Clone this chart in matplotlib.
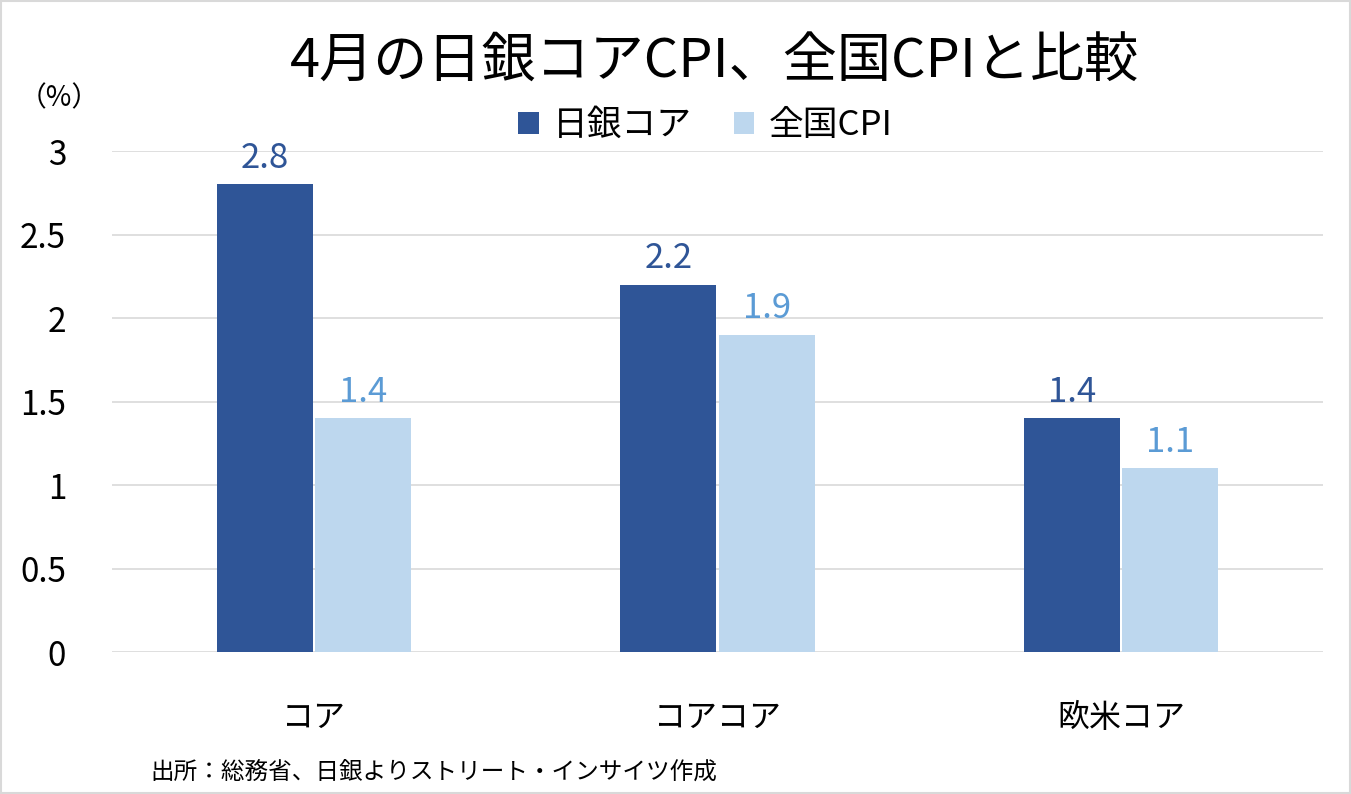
import matplotlib
matplotlib.use("Agg")
import matplotlib.pyplot as plt
import numpy as np
from matplotlib.patches import Rectangle

plt.rcParams['font.family'] = ['Noto Sans CJK JP', 'DejaVu Sans']

categories = ["コア", "コアコア", "欧米コア"]
boj_core = [2.8, 2.2, 1.4]
national_cpi = [1.4, 1.9, 1.1]
series_names = ["日銀コア", "全国CPI"]
yticks = [0, 0.5, 1, 1.5, 2, 2.5, 3]
ytick_labels = ["0", "0.5", "1", "1.5", "2", "2.5", "3"]

dark = "#2F5597"
light = "#BDD7EE"
dark_txt = "#2F5597"
light_txt = "#5B9BD5"

fig = plt.figure(figsize=(13.51, 7.94), dpi=100)
ax = fig.add_axes([0.0829, 0.1788, 0.8964, 0.631])

x = np.arange(len(categories))
w = 0.238
gap = 0.003
b1 = ax.bar(x - w / 2 - gap, boj_core, w, color=dark, label=series_names[0], zorder=3)
b2 = ax.bar(x + w / 2 + gap, national_cpi, w, color=light, label=series_names[1], zorder=3)

for rect, v in zip(b1, boj_core):
    ax.text(rect.get_x() + rect.get_width() / 2, v + 0.05, f"{v:.1f}",
            ha="center", va="bottom", fontsize=25, color=dark_txt)
for rect, v in zip(b2, national_cpi):
    ax.text(rect.get_x() + rect.get_width() / 2, v + 0.05, f"{v:.1f}",
            ha="center", va="bottom", fontsize=25, color=light_txt)

ax.set_xlim(-0.5, 2.5)
ax.set_ylim(0, 3)
ax.set_yticks(yticks)
ax.set_yticklabels(ytick_labels, fontsize=24)
ax.set_xticks(x)
ax.set_xticklabels(categories, fontsize=23)
ax.tick_params(axis="both", length=0)
ax.tick_params(axis="y", pad=33)
ax.tick_params(axis="x", pad=36)
ax.grid(axis="y", color="#D9D9D9", lw=1.2, zorder=0)
for s in ax.spines.values():
    s.set_visible(False)

fig.text(0.529, 0.922, "4月の日銀コアCPI、全国CPIと比較", ha="center", va="center", fontsize=39)
fig.text(0.044, 0.876, "（%）", ha="center", va="center", fontsize=20)
fig.legend(handles=[b1, b2], loc="center", bbox_to_anchor=(0.522, 0.842), ncol=2,
           frameon=False, fontsize=25, handlelength=0.6, handleheight=0.6,
           columnspacing=1.2, handletextpad=0.4)
fig.text(0.111, 0.028, "出所：総務省、日銀よりストリート・インサイツ作成", ha="left",
         va="center", fontsize=17)

fig.patches.append(Rectangle((0.001, 0.001), 0.998, 0.998, transform=fig.transFigure,
                             fill=False, edgecolor="#D9D9D9", lw=1.5))

fig.savefig("out.png", dpi=100)
